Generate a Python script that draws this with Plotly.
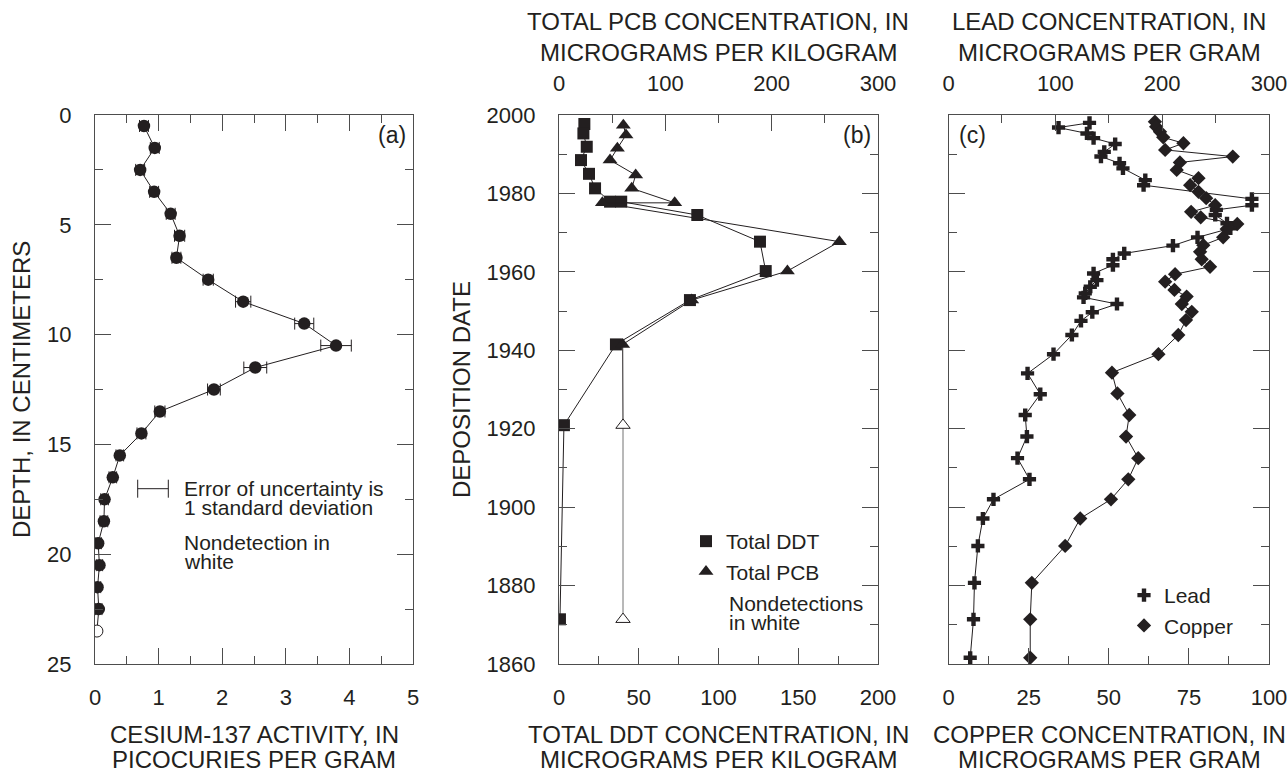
import plotly.graph_objects as go

W, H = 1288, 773
FONT = "Liberation Sans, Arial, sans-serif"
TXT = "#231f20"
AX = "#4d4d4d"
FS_TICK = 22
FS_TITLE = 24
FS_NOTE = 21

# ---------------- data ----------------
# (a) Cesium-137
cs_depth = [0.5, 1.5, 2.5, 3.5, 4.5, 5.5, 6.5, 7.5, 8.5, 9.5, 10.5, 11.5,
            12.5, 13.5, 14.5, 15.5, 16.5, 17.5, 18.5, 19.5, 20.5, 21.5, 22.5, 23.5]
cs_activity = [0.77, 0.94, 0.71, 0.93, 1.19, 1.33, 1.28, 1.78, 2.33, 3.29, 3.79, 2.52,
               1.87, 1.02, 0.73, 0.39, 0.28, 0.15, 0.14, 0.05, 0.07, 0.04, 0.06, 0.03]
cs_error = [0.07, 0.07, 0.07, 0.07, 0.07, 0.08, 0.07, 0.08, 0.12, 0.15, 0.24, 0.18,
            0.10, 0.08, 0.07, 0.06, 0.06, 0.06, 0.06, 0.05, 0.05, 0.05, 0.05, 0.0]
cs_detected = [True] * 23 + [False]

# (b) DDT and PCB
ddt_year = [1997.7, 1995.3, 1991.9, 1988.5, 1985.0, 1981.3, 1977.9, 1977.9,
            1974.5, 1967.7, 1960.2, 1952.8, 1941.5, 1920.9, 1871.4]
ddt_conc = [15.9, 15.3, 17.4, 13.8, 18.8, 22.6, 32.0, 39.0,
            86.7, 126.0, 129.6, 82.1, 35.7, 3.1, 0.6]
pcb_year = [1997.4, 1994.9, 1991.5, 1988.5, 1984.7, 1981.3, 1977.6, 1977.6,
            1967.7, 1960.2, 1952.8, 1941.5, 1920.9, 1871.4]
pcb_conc = [60.5, 63.0, 54.9, 48.0, 72.1, 68.4, 108.8, 40.8,
            263.7, 214.8, 124.8, 59.9, 60.2, 60.2]
pcb_detected = [True] * 12 + [False, False]

# (c) Lead and copper
lead_year = [1998.0, 1996.8, 1995.3, 1994.1, 1992.6, 1990.6, 1989.4, 1987.7, 1986.4,
             1983.4, 1982.1, 1978.6, 1977.0, 1975.8, 1974.5, 1972.4, 1971.1, 1968.8,
             1966.7, 1964.7, 1963.2, 1961.7, 1959.6, 1957.9, 1956.2, 1954.5, 1953.5,
             1951.8, 1949.7, 1947.5, 1943.9, 1939.0, 1934.1, 1928.8, 1923.5, 1918.0,
             1912.5, 1907.1, 1902.0, 1897.1, 1890.1, 1880.7, 1871.4, 1861.6]
lead_conc = [132, 103, 129.6, 135.8, 156, 145.8, 142.7, 160.1, 163.3,
             184.2, 182.6, 284, 284, 250.7, 249.7, 260.7, 263.8, 233.1,
             210.1, 164.5, 153.9, 153.9, 135.8, 138.9, 132.7, 128, 126.4,
             157.7, 134.6, 124, 115.5, 98.3, 74, 85.9, 71.8, 73.4,
             64.6, 75.8, 42.1, 32.2, 27.5, 24.3, 23.4, 20.3]
copper_year = [1998.3, 1997.0, 1995.7, 1994.3, 1992.8, 1991.1, 1989.4, 1987.9, 1986.0,
               1983.9, 1982.1, 1980.4, 1978.8, 1977.0, 1975.3, 1973.9, 1972.2, 1970.9,
               1968.8, 1966.8, 1965.1, 1963.2, 1961.3, 1959.4, 1957.5, 1955.4, 1953.7,
               1951.8, 1949.8, 1947.7, 1943.9, 1939.0, 1934.3, 1929.0, 1923.5, 1918.0,
               1912.5, 1907.1, 1902.0, 1897.1, 1890.1, 1880.7, 1871.4, 1861.6]
copper_conc = [64.4, 64.8, 66.0, 67.0, 73.3, 67.6, 88.7, 72.2, 71.2,
               78.0, 75.4, 78.0, 80.4, 83.2, 75.7, 78.7, 90.1, 86.8,
               85.7, 79.5, 78.5, 79.0, 81.6, 70.7, 67.6, 70.5, 74.3,
               72.8, 75.9, 74.1, 71.7, 65.5, 51.0, 52.7, 56.4, 55.4,
               59.2, 56.1, 50.7, 41.1, 36.4, 26.0, 25.5, 25.5]

# ---------------- layout helpers ----------------
def px_x(x):
    return x / W


def px_y(y):
    return 1 - y / H


PLOT_TOP, PLOT_BOT = 115, 664
A_X = (95, 413)
B_X = (559, 878)
C_X = (948.5, 1269)
YDOM = [px_y(PLOT_BOT), px_y(PLOT_TOP)]

fig = go.Figure()

line_style = dict(color=TXT, width=1)


def pick(vals, flags, want=True):
    return [v for v, f in zip(vals, flags) if f == want]


# (a)
fig.add_trace(go.Scatter(
    x=cs_activity, y=cs_depth, mode="lines", line=line_style,
    xaxis="x", yaxis="y", showlegend=False, hoverinfo="skip"))
fig.add_trace(go.Scatter(
    x=pick(cs_activity, cs_detected), y=pick(cs_depth, cs_detected), mode="markers",
    marker=dict(symbol="circle", size=12.5, color=TXT, line=dict(width=0)),
    error_x=dict(type="data", array=pick(cs_error, cs_detected), visible=True,
                 color=TXT, thickness=1, width=6),
    xaxis="x", yaxis="y", showlegend=False))
fig.add_trace(go.Scatter(
    x=pick(cs_activity, cs_detected, False), y=pick(cs_depth, cs_detected, False),
    mode="markers",
    marker=dict(symbol="circle", size=12, color="white", line=dict(width=1, color=TXT)),
    xaxis="x", yaxis="y", showlegend=False))

# (b)
n_pcb_black = pcb_detected.count(True) + 1
fig.add_trace(go.Scatter(
    x=pcb_conc[n_pcb_black - 1:], y=pcb_year[n_pcb_black - 1:], mode="lines",
    line=dict(color="#8a8a8a", width=1.2),
    xaxis="x3", yaxis="y2", showlegend=False))
fig.add_trace(go.Scatter(
    x=pcb_conc[:n_pcb_black], y=pcb_year[:n_pcb_black], mode="lines", line=line_style,
    xaxis="x3", yaxis="y2", showlegend=False))
fig.add_trace(go.Scatter(
    x=ddt_conc, y=ddt_year, mode="lines+markers", line=line_style,
    marker=dict(symbol="square", size=12, color=TXT),
    xaxis="x2", yaxis="y2", showlegend=False))
fig.add_trace(go.Scatter(
    x=pick(pcb_conc, pcb_detected), y=pick(pcb_year, pcb_detected),
    mode="markers", marker=dict(symbol="triangle-up", size=13, color=TXT),
    xaxis="x3", yaxis="y2", showlegend=False))
fig.add_trace(go.Scatter(
    x=pick(pcb_conc, pcb_detected, False), y=pick(pcb_year, pcb_detected, False),
    mode="markers",
    marker=dict(symbol="triangle-up", size=12.5, color="white", line=dict(width=1, color=TXT)),
    xaxis="x3", yaxis="y2", showlegend=False))

# (c)
fig.add_trace(go.Scatter(
    x=copper_conc, y=copper_year, mode="lines+markers", line=line_style,
    marker=dict(symbol="diamond", size=11, color=TXT),
    xaxis="x4", yaxis="y3", showlegend=False))
fig.add_trace(go.Scatter(
    x=lead_conc, y=lead_year, mode="lines+markers", line=line_style,
    marker=dict(symbol="cross", size=11, color=TXT),
    xaxis="x5", yaxis="y3", showlegend=False))

# legend-only entries
fig.add_trace(go.Scatter(x=[None], y=[None], mode="markers", name="Total DDT",
                         marker=dict(symbol="square", size=12, color=TXT),
                         legend="legend2", xaxis="x2", yaxis="y2"))
fig.add_trace(go.Scatter(x=[None], y=[None], mode="markers", name="Total PCB",
                         marker=dict(symbol="triangle-up", size=13, color=TXT),
                         legend="legend2", xaxis="x2", yaxis="y2"))
fig.add_trace(go.Scatter(x=[None], y=[None], mode="markers", name="Lead",
                         marker=dict(symbol="cross", size=11, color=TXT),
                         legend="legend3", xaxis="x4", yaxis="y3"))
fig.add_trace(go.Scatter(x=[None], y=[None], mode="markers", name="Copper",
                         marker=dict(symbol="diamond", size=11, color=TXT),
                         legend="legend3", xaxis="x4", yaxis="y3"))


def axis(**kw):
    base = dict(showline=True, linecolor=AX, linewidth=1.2, ticks="inside",
                ticklen=16, tickwidth=1.2, tickcolor=AX, showgrid=False,
                zeroline=False, automargin=False, fixedrange=True,
                tickfont=dict(size=FS_TICK, family=FONT, color=TXT))
    base.update(kw)
    return base


def minor(d):
    return dict(dtick=d, ticks="inside", ticklen=8, tickwidth=1.2, tickcolor=AX, showgrid=False)


legend_font = dict(size=FS_NOTE, family=FONT, color=TXT)
fig.update_layout(
    width=W, height=H, margin=dict(l=0, r=0, t=0, b=0),
    paper_bgcolor="white", plot_bgcolor="white",
    font=dict(family=FONT, size=FS_TICK, color=TXT),
    xaxis=axis(domain=[px_x(A_X[0]), px_x(A_X[1])], range=[0, 5], tick0=0, dtick=1,
               minor=minor(0.5), mirror="ticks", anchor="y", ticklabelstandoff=13),
    yaxis=axis(domain=YDOM, range=[25, 0], tick0=0, dtick=5, minor=minor(2.5),
               mirror="ticks", anchor="x", ticklabelstandoff=18),
    xaxis2=axis(domain=[px_x(B_X[0]), px_x(B_X[1])], range=[0, 200], tick0=0, dtick=50,
                minor=minor(25), anchor="y2", ticklabelstandoff=13),
    xaxis3=axis(range=[0, 300], tick0=0, dtick=100, minor=minor(50), overlaying="x2",
                side="top", anchor="y2", ticklabelstandoff=14),
    yaxis2=axis(domain=YDOM, range=[1860, 2000], tick0=1860, dtick=20, minor=minor(10),
                mirror="ticks", anchor="x2", ticklabelstandoff=18),
    xaxis4=axis(domain=[px_x(C_X[0]), px_x(C_X[1])], range=[0, 100], tick0=0, dtick=25,
                minor=minor(12.5), anchor="y3", ticklabelstandoff=13),
    xaxis5=axis(range=[0, 300], tick0=0, dtick=100, minor=minor(50), overlaying="x4",
                side="top", anchor="y3", ticklabelstandoff=14),
    yaxis3=axis(domain=YDOM, range=[1860, 2000], tick0=1860, dtick=20, minor=minor(10),
                mirror="ticks", anchor="x4", showticklabels=False),
    legend2=dict(x=px_x(686), y=px_y(521), xanchor="left", yanchor="top",
                 bgcolor="rgba(0,0,0,0)", font=legend_font, itemclick=False),
    legend3=dict(x=px_x(1124), y=px_y(575), xanchor="left", yanchor="top",
                 bgcolor="rgba(0,0,0,0)", font=legend_font, itemclick=False),
    showlegend=True,
)


annotations = []


def text(x, y, s, xanchor="center", angle=0, size=FS_TITLE):
    annotations.append(dict(x=px_x(x), y=px_y(y), xref="paper", yref="paper", text=s,
                            showarrow=False, xanchor=xanchor, yanchor="middle",
                            textangle=angle, font=dict(size=size, family=FONT, color=TXT)))


# axis titles
text(22, 390, "DEPTH, IN CENTIMETERS", angle=-90)
text(462, 390, "DEPOSITION DATE", angle=-90)
text(254, 734, "CESIUM-137 ACTIVITY, IN")
text(254, 759, "PICOCURIES PER GRAM")
text(718, 734, "TOTAL DDT CONCENTRATION, IN")
text(718, 759, "MICROGRAMS PER KILOGRAM")
text(1109, 734, "COPPER CONCENTRATION, IN")
text(1109, 759, "MICROGRAMS PER GRAM")
text(718, 21, "TOTAL PCB CONCENTRATION, IN")
text(718, 52, "MICROGRAMS PER KILOGRAM")
text(1109, 21, "LEAD CONCENTRATION, IN")
text(1109, 52, "MICROGRAMS PER GRAM")

# panel labels
text(392, 135, "(a)", size=23)
text(857, 135, "(b)", size=23)
text(972, 135, "(c)", size=23)

# notes
text(182, 488, "Error of uncertainty is", xanchor="left", size=FS_NOTE)
text(182, 507, "1 standard deviation", xanchor="left", size=FS_NOTE)
text(182, 542, "Nondetection in", xanchor="left", size=FS_NOTE)
text(182, 561, "white", xanchor="left", size=FS_NOTE)
text(727, 603, "Nondetections", xanchor="left", size=FS_NOTE)
text(727, 622, "in white", xanchor="left", size=FS_NOTE)

fig.update_layout(annotations=annotations)

# error-bar key in panel (a)
shapes = []
ek_y = 488.7
for (x0, y0, x1, y1) in [(137.7, ek_y, 168.3, ek_y), (137.7, ek_y - 9, 137.7, ek_y + 9),
                         (168.3, ek_y - 9, 168.3, ek_y + 9)]:
    shapes.append(dict(type="line", xref="paper", yref="paper",
                       x0=px_x(x0), y0=px_y(y0), x1=px_x(x1), y1=px_y(y1),
                       line=dict(color=TXT, width=1)))
fig.update_layout(shapes=shapes)

fig.write_html("out.html")
